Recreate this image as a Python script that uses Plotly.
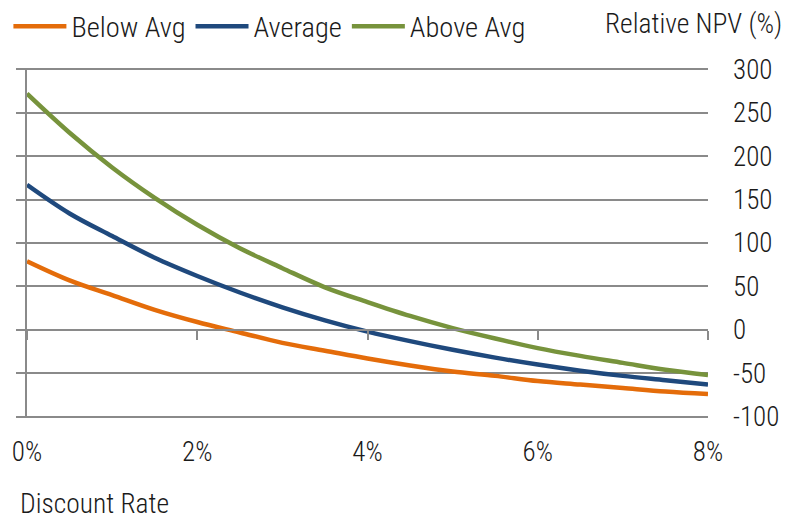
import plotly.graph_objects as go

# Discount rate (%) and relative NPV (%) for the three scenarios
discount_rate = [0, 0.5, 1, 1.5, 2, 2.5, 3, 3.5, 4, 4.5, 5, 5.5, 6, 6.5, 7, 7.5, 8]
below_avg = [79, 57, 40, 23, 9, -3, -15, -24, -33, -41, -48, -53, -59, -63, -67, -71, -74]
average = [167, 134, 108, 83, 62, 43, 26, 11, -2, -13, -23, -32, -40, -47, -53, -58, -63]
above_avg = [272, 227, 187, 152, 121, 94, 71, 49, 32, 16, 2, -10, -21, -30, -38, -46, -52]

series_names = ["Below Avg", "Average", "Above Avg"]
series_values = [below_avg, average, above_avg]
series_colors = ["#E46C0A", "#1F497D", "#77933C"]

x_ticks = [0, 2, 4, 6, 8]
x_tick_labels = ["0%", "2%", "4%", "6%", "8%"]
y_ticks = [-100, -50, 0, 50, 100, 150, 200, 250, 300]
y_tick_labels = ["-100", "-50", "0", "50", "100", "150", "200", "250", "300"]

FONT = "Roboto Condensed, Archivo Narrow, Liberation Sans Narrow, DejaVu Sans Condensed, sans-serif"
GRID = "#8A8A8A"
TEXT = "#1a1a1a"

# a little headroom so the gridlines at -100 and 300 are kept
y_range = [-101.5, 301.5]
zero_pos = (0 - y_range[0]) / (y_range[1] - y_range[0])

fig = go.Figure()
for name, vals, color in zip(series_names, series_values, series_colors):
    fig.add_trace(go.Scatter(
        x=discount_rate, y=vals, name=name, mode="lines",
        line=dict(color=color, width=4.5, shape="spline", smoothing=1),
    ))

# empty traces so the helper axes (zero axis, right-hand labels) get drawn
fig.add_trace(go.Scatter(x=[], y=[], xaxis="x2", yaxis="y", showlegend=False, hoverinfo="skip"))
fig.add_trace(go.Scatter(x=[], y=[], xaxis="x", yaxis="y2", showlegend=False, hoverinfo="skip"))

fig.update_layout(
    width=787, height=519,
    margin=dict(l=27, r=79, t=68, b=101, autoexpand=False),
    paper_bgcolor="white", plot_bgcolor="white",
    font=dict(family=FONT, size=27, color=TEXT, weight=300),
    showlegend=True,
    legend=dict(
        orientation="h", x=-0.0273, y=1.118, xanchor="left", yanchor="middle",
        font=dict(size=28.5, weight=300), bgcolor="rgba(0,0,0,0)",
        itemwidth=53, tracegroupgap=0,
    ),
    xaxis=dict(
        range=[0, 8], tickvals=x_ticks, ticktext=x_tick_labels,
        showgrid=False, zeroline=False, showline=False,
        ticks="", ticklabelstandoff=15,
    ),
    # axis line through y = 0 with downward ticks
    xaxis2=dict(
        range=[0, 8], tickvals=x_ticks, overlaying="x", anchor="free",
        position=zero_pos, showgrid=False, zeroline=False,
        showline=True, linecolor=GRID, linewidth=2,
        ticks="outside", ticklen=9, tickwidth=2, tickcolor=GRID,
        showticklabels=False,
    ),
    yaxis=dict(
        range=y_range, tickvals=y_ticks,
        showgrid=True, gridcolor=GRID, gridwidth=2,
        zeroline=False, showline=True, linecolor=GRID, linewidth=2,
        ticks="outside", ticklen=9, tickwidth=2, tickcolor=GRID,
        showticklabels=False,
    ),
    yaxis2=dict(
        range=y_range, tickvals=y_ticks, ticktext=y_tick_labels,
        overlaying="y", side="right", anchor="x",
        showgrid=False, zeroline=False, showline=False,
        ticks="", ticklabelstandoff=24,
    ),
    annotations=[
        dict(text="Relative NPV (%)", xref="paper", yref="paper",
             x=1.1116, y=1.126, xanchor="right", yanchor="middle",
             showarrow=False, font=dict(size=27.5, weight=300)),
        dict(text="Discount Rate", xref="paper", yref="paper",
             x=-0.0132, y=-0.243, xanchor="left", yanchor="middle",
             showarrow=False, font=dict(size=27.5, weight=300)),
    ],
)

fig.write_html("out.html")
